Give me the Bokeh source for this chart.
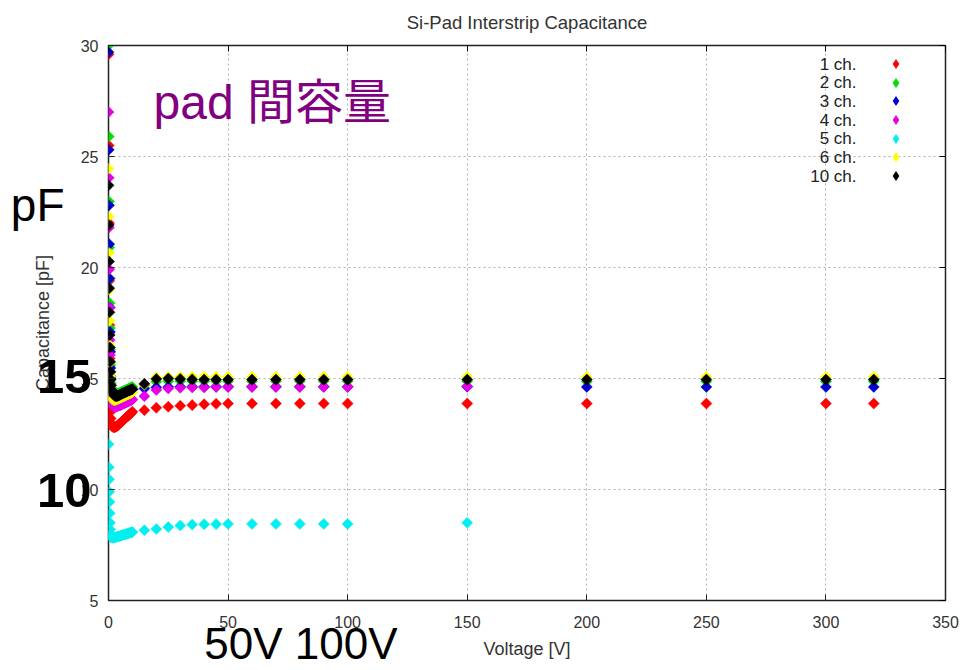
import math
from bokeh.plotting import figure
from bokeh.models import Label, Legend, LegendItem, LinearAxis, Range1d, FixedTicker, ColumnDataSource
from bokeh.core.properties import value
from bokeh.embed import file_html
from bokeh.resources import INLINE

# ---------------- data ----------------
voltage = [0, 0.1, 0.2, 0.3, 0.4, 0.5, 0.6, 0.7, 0.8, 0.9, 1.0,
           1.5, 2, 2.5, 3, 3.5, 4, 4.5, 5, 5.5, 6, 6.5, 7, 7.5, 8, 8.5, 9, 9.5, 10,
           15, 20, 25, 30, 35, 40, 45, 50, 60, 70, 80, 90, 100, 150, 200, 250, 300, 320]

ch1 = [29.6, 25.5, 22.0, 19.4, 17.4, 15.9, 14.8, 14.0, 13.5, 13.2, 13.0,
       12.85, 12.8, 12.8, 12.82, 12.85, 12.9, 12.95, 13.0, 13.05, 13.1, 13.15, 13.2, 13.25, 13.3, 13.35, 13.4, 13.45, 13.5,
       13.57, 13.68, 13.73, 13.77, 13.8, 13.84, 13.86, 13.87, 13.87, 13.87, 13.87, 13.87, 13.87, 13.87, 13.87, 13.87, 13.87, 13.87]
ch2 = [30.0, 25.9, 22.97, 20.9, 19.5, 18.39, 17.27, 16.3, 15.6, 15.1, 14.8,
       14.55, 14.4, 14.35, 14.32, 14.32, 14.33, 14.35, 14.37, 14.4, 14.42, 14.45, 14.47, 14.5, 14.52, 14.55, 14.57, 14.6, 14.62,
       14.7, 14.85, 14.88, 14.88, 14.88, 14.88, 14.88, 14.88, 14.88, 14.88, 14.88, 14.88, 14.88, 14.88, 14.86, 14.86, 14.86, 14.86]
ch3 = [29.7, 25.3, 22.8, 21.05, 19.5, 18.2, 17.1, 16.2, 15.47, 15.0, 14.7,
       14.45, 14.3, 14.22, 14.2, 14.2, 14.22, 14.25, 14.27, 14.3, 14.32, 14.35, 14.37, 14.4, 14.42, 14.44, 14.46, 14.48, 14.5,
       14.55, 14.6, 14.62, 14.63, 14.63, 14.63, 14.63, 14.63, 14.63, 14.63, 14.63, 14.63, 14.63, 14.63, 14.62, 14.62, 14.62, 14.62]
ch4 = [27.0, 24.04, 21.8, 19.92, 18.2, 16.73, 16.06, 15.3, 14.7, 14.3, 14.05,
       13.85, 13.75, 13.72, 13.72, 13.74, 13.76, 13.78, 13.8, 13.82, 13.85, 13.87, 13.9, 13.92, 13.95, 13.97, 14.0, 14.02, 14.05,
       14.2, 14.48, 14.55, 14.58, 14.6, 14.6, 14.62, 14.62, 14.62, 14.62, 14.62, 14.62, 14.62, 14.65, None, None, None, None]
ch5 = [12.04, 11.0, 10.46, 9.9, 9.44, 8.93, 8.5, 8.2, 8.0, 7.9, 7.85,
       7.83, 7.83, 7.84, 7.85, 7.87, 7.88, 7.9, 7.92, 7.93, 7.95, 7.97, 7.98, 8.0, 8.02, 8.03, 8.05, 8.07, 8.08,
       8.16, 8.22, 8.31, 8.38, 8.42, 8.43, 8.44, 8.45, 8.45, 8.45, 8.45, 8.45, 8.45, 8.5, None, None, None, None]
ch6 = [24.45, 22.3, 20.65, 19.0, 17.6, 16.5, 15.7, 15.1, 14.7, 14.4, 14.2,
       14.08, 14.03, 14.02, 14.03, 14.05, 14.08, 14.1, 14.13, 14.15, 14.18, 14.2, 14.23, 14.25, 14.28, 14.3, 14.33, 14.35, 14.38,
       14.72, 15.05, 15.07, 15.08, 15.08, 15.08, 15.08, 15.08, 15.08, 15.08, 15.08, 15.08, 15.08, 15.08, 15.08, 15.08, 15.08, 15.08]
ch10 = [23.7, 21.92, 20.27, 19.07, 17.98, 16.96, 16.4, 15.75, 15.3, 14.95, 14.7,
        14.45, 14.3, 14.22, 14.2, 14.2, 14.22, 14.25, 14.27, 14.3, 14.33, 14.35, 14.38, 14.4, 14.43, 14.45, 14.47, 14.5, 14.52,
        14.76, 14.98, 15.0, 14.98, 14.96, 14.95, 14.95, 14.95, 14.95, 14.95, 14.95, 14.95, 14.95, 14.95, 14.95, 14.95, 14.95, 14.95]

series_names = ["1 ch.", "2 ch.", "3 ch.", "4 ch.", "5 ch.", "6 ch.", "10 ch."]
series_values = [ch1, ch2, ch3, ch4, ch5, ch6, ch10]
series_colors = ["#ff0000", "#00e000", "#0000d0", "#e600e6", "#00f0f0", "#ffff00", "#000000"]

x_ticks = [0, 50, 100, 150, 200, 250, 300, 350]
y_ticks = [5, 10, 15, 20, 25, 30]

# slide annotations written over the chart (text, anchor value)
note_pf = ("pF", 22.83)
note_big_ticks = {15.09: "15", 9.96: "10"}
note_volts = ("50V 100V", 80.5)
note_title = "pad 間容量"

FONT = "Liberation Sans"

# ---------------- figure ----------------
p = figure(width=963, height=670, x_range=Range1d(0, 350), y_range=Range1d(5, 30),
           output_backend="svg", toolbar_location=None,
           min_border_left=108, min_border_right=18, min_border_top=45, min_border_bottom=70,
           title="Si-Pad Interstrip Capacitance")
p.title.align = "center"
p.title.vertical_align = "top"
p.title.text_font = FONT
p.title.text_font_size = "18.5px"
p.title.text_font_style = "normal"
p.title.text_color = "#333333"
p.title.standoff = 21

p.outline_line_color = "#222222"
p.outline_line_width = 1.5
p.background_fill_color = "white"
p.border_fill_color = "white"

for ax in (p.xaxis[0], p.yaxis[0]):
    ax.major_tick_in = 6
    ax.major_tick_out = 0
    ax.minor_tick_line_color = None
    ax.axis_line_color = None
    ax.major_tick_line_color = "#222222"
    ax.major_label_text_font = FONT
    ax.major_label_text_font_size = "16px"
    ax.major_label_text_color = "#333333"
    ax.axis_label_text_font = FONT
    ax.axis_label_text_font_size = "18px"
    ax.axis_label_text_font_style = "normal"
    ax.axis_label_text_color = "#333333"

p.xaxis[0].ticker = FixedTicker(ticks=x_ticks)
p.yaxis[0].ticker = FixedTicker(ticks=y_ticks)
p.xaxis[0].axis_label = "Voltage [V]"
p.yaxis[0].axis_label = "Capacitance [pF]"
p.xaxis[0].major_label_standoff = 15
p.yaxis[0].major_label_standoff = 10
p.xaxis[0].axis_label_standoff = 8
p.yaxis[0].axis_label_standoff = 25

# mirror ticks (gnuplot style)
top_ax = LinearAxis(ticker=FixedTicker(ticks=x_ticks), major_tick_in=6, major_tick_out=0,
                    minor_tick_line_color=None, axis_line_color=None,
                    major_label_overrides={t: "" for t in x_ticks}, major_label_standoff=0)
right_ax = LinearAxis(ticker=FixedTicker(ticks=y_ticks), major_tick_in=6, major_tick_out=0,
                      minor_tick_line_color=None, axis_line_color=None,
                      major_label_overrides={t: "" for t in y_ticks}, major_label_standoff=0)
p.add_layout(top_ax, "above")
p.add_layout(right_ax, "right")

p.xgrid.ticker = FixedTicker(ticks=x_ticks)
p.ygrid.ticker = FixedTicker(ticks=y_ticks)
for g in (p.xgrid[0], p.ygrid[0]):
    g.grid_line_color = "#b0b0b0"
    g.grid_line_dash = "2 3"
    g.grid_line_width = 1

# ---------------- series + gnuplot-style key ----------------
ROW0, PITCH = 63.5, 18.67
for i, (name, vals, col) in enumerate(zip(series_names, series_values, series_colors)):
    xs = [v for v, c in zip(voltage, vals) if c is not None]
    ys = [c for c in vals if c is not None]
    src = ColumnDataSource(data=dict(x=xs, y=ys))
    p.scatter("x", "y", source=src, marker="square", size=7.8, angle=math.pi / 4,
              fill_color=col, line_color=col, line_alpha=0.5, line_width=1)
    # legend key (diamond), drawn only in the legend
    key = p.scatter("x", "y", source=src, marker="diamond", size=0,
                    fill_color=col, line_color=None)
    row_y = ROW0 + PITCH * i
    p.add_layout(Legend(items=[LegendItem(label=value(""), renderers=[key])],
                        location=(895 - 12.5 - 108, 600 - (row_y + 12.5)),
                        padding=0, margin=0, spacing=0,
                        glyph_width=25, glyph_height=25, label_height=25, label_width=0,
                        label_standoff=0, border_line_color=None, background_fill_alpha=0))
    p.add_layout(Label(x=856 - 108, y=600 - row_y, x_units="screen", y_units="screen",
                       text=name, text_align="right", text_baseline="middle",
                       text_font=FONT, text_font_size="17px", text_color="#222222"))

# ---------------- slide annotations ----------------
p.add_layout(Label(x=153 - 108, y=600 - 102, x_units="screen", y_units="screen",
                   text=note_title, text_align="left", text_baseline="alphabetic",
                   text_font="Liberation Sans, Noto Sans CJK JP", text_font_size="48px",
                   text_color="#800080"))

def note_axis(ticks, labels, size, style, standoff):
    return LinearAxis(ticker=FixedTicker(ticks=ticks), major_label_overrides=labels,
                      major_tick_in=0, major_tick_out=0, major_tick_line_color=None,
                      minor_tick_line_color=None, axis_line_color=None,
                      major_label_text_font=FONT, major_label_text_font_size=size,
                      major_label_text_font_style=style, major_label_text_color="black",
                      major_label_standoff=standoff)

big_ax = note_axis(list(note_big_ticks.keys()), note_big_ticks, "49px", "bold", -62)
pf_ax = note_axis([note_pf[1]], {note_pf[1]: note_pf[0]}, "46px", "normal", -35)
volt_ax = note_axis([note_volts[1]], {note_volts[1]: note_volts[0]}, "44px", "normal", -43)
p.add_layout(big_ax, "left")
p.add_layout(pf_ax, "left")
p.add_layout(volt_ax, "below")

open("out.html", "w").write(file_html(p, INLINE))
